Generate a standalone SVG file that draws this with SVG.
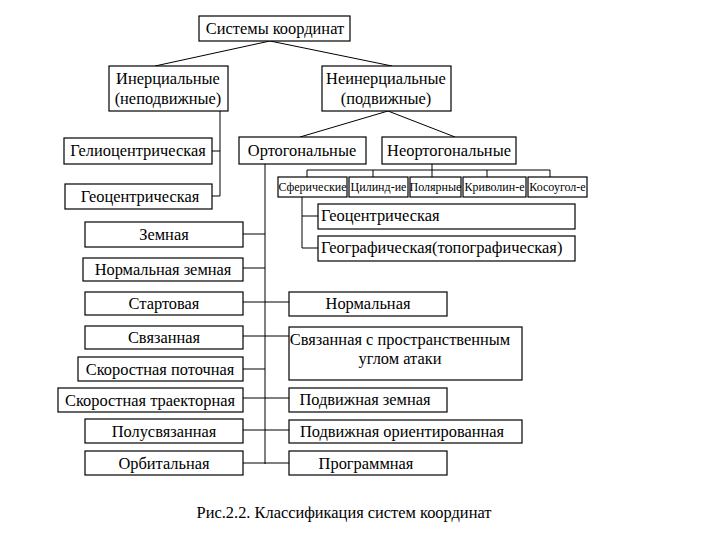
<svg xmlns="http://www.w3.org/2000/svg" width="720" height="540" viewBox="0 0 720 540">
<style>
rect{fill:#fff;stroke:#000;stroke-width:1.2}
text{font-family:"Liberation Serif","Times New Roman",serif;font-size:16.4px;fill:#000;text-anchor:middle}
text.s{font-size:12px}
text.l{text-anchor:start}
#connectors path{fill:none;stroke:#000;stroke-width:1}
</style>
<rect x="0" y="0" width="720" height="540" style="fill:#fff;stroke:none"/>
<g id="connectors">
<path d="M270,41 L155,66 M270,41 L392,66"/>
<path d="M220,111 V196 M212,151 H220 M212,196 H220"/>
<path d="M388,111 L300,137 M388,111 L455,137"/>
<path d="M432,164 V177 M307,170 H550 M307,170 V177 M373,170 V177 M487,170 V177 M550,170 V177"/>
<path d="M302,197 V248 H318 M302,216 H318"/>
<path d="M265,164 V464"/>
<path d="M243,234 H265 M243,268 H265 M243,302 H289 M243,336 H289 M243,369 H265 M243,398 H289 M243,430 H289 M243,463 H289"/>
</g>
<g id="n_root"><rect x="199" y="16" width="151" height="25"/><text x="275" y="34">Системы координат</text></g>
<g id="n_inert"><rect x="109" y="66" width="119" height="45"/><text x="168" y="84">Инерциальные</text><text x="168" y="104">(неподвижные)</text></g>
<g id="n_noninert"><rect x="322" y="66" width="129" height="45"/><text x="386" y="84">Неинерциальные</text><text x="386" y="104">(подвижные)</text></g>
<g id="n_helio"><rect x="64" y="138" width="148" height="26"/><text x="138" y="156">Гелиоцентрическая</text></g>
<g id="n_geo1"><rect x="65" y="184" width="147" height="25"/><text x="140" y="202">Геоцентрическая</text></g>
<g id="n_ortho"><rect x="239" y="137" width="127" height="27"/><text x="302" y="156">Ортогональные</text></g>
<g id="n_neortho"><rect x="382" y="137" width="134" height="27"/><text x="449" y="156">Неортогональные</text></g>
<g id="n_sph"><rect x="278" y="177" width="69" height="20"/><text class="s" x="312.5" y="191">Сферические</text></g>
<g id="n_cyl"><rect x="349" y="177" width="59" height="20"/><text class="s" x="378.5" y="191">Цилинд-ие</text></g>
<g id="n_pol"><rect x="410" y="177" width="51" height="20"/><text class="s" x="435.5" y="191">Полярные</text></g>
<g id="n_curv"><rect x="463" y="177" width="63" height="20"/><text class="s" x="494.5" y="191">Криволин-е</text></g>
<g id="n_obl"><rect x="528" y="177" width="59" height="20"/><text class="s" x="557.5" y="191">Косоугол-е</text></g>
<g id="n_geo2"><rect x="318" y="204" width="257" height="25"/><text class="l" x="321" y="221">Геоцентрическая</text></g>
<g id="n_geogr"><rect x="318" y="236" width="257" height="25"/><text class="l" x="321" y="253">Географическая(топографическая)</text></g>
<g id="n_zem"><rect x="85" y="222" width="158" height="25"/><text x="164" y="240">Земная</text></g>
<g id="n_normzem"><rect x="83" y="258" width="160" height="23"/><text x="163" y="275">Нормальная земная</text></g>
<g id="n_start"><rect x="85" y="292" width="158" height="23"/><text x="164" y="309">Стартовая</text></g>
<g id="n_svyaz"><rect x="85" y="326" width="158" height="23"/><text x="164" y="343">Связанная</text></g>
<g id="n_skpot"><rect x="78" y="357" width="165" height="24"/><text x="160" y="375">Скоростная поточная</text></g>
<g id="n_sktr"><rect x="58" y="388" width="185" height="24"/><text x="150" y="406">Скоростная траекторная</text></g>
<g id="n_polu"><rect x="85" y="419" width="158" height="24"/><text x="164" y="437">Полусвязанная</text></g>
<g id="n_orb"><rect x="85" y="451" width="158" height="24"/><text x="164" y="469">Орбитальная</text></g>
<g id="n_norm"><rect x="289" y="292" width="158" height="24"/><text x="368" y="309">Нормальная</text></g>
<g id="n_svprost"><rect x="289" y="327" width="233" height="53"/><text x="400" y="345">Связанная с пространственным</text><text x="400" y="364">углом атаки</text></g>
<g id="n_podzem"><rect x="289" y="388" width="158" height="24"/><text x="365" y="405">Подвижная земная</text></g>
<g id="n_podor"><rect x="289" y="420" width="233" height="23"/><text x="402" y="437">Подвижная ориентированная</text></g>
<g id="n_prog"><rect x="289" y="451" width="158" height="24"/><text x="366" y="469">Программная</text></g>
<text x="344" y="518">Рис.2.2. Классификация систем координат</text>
</svg>
